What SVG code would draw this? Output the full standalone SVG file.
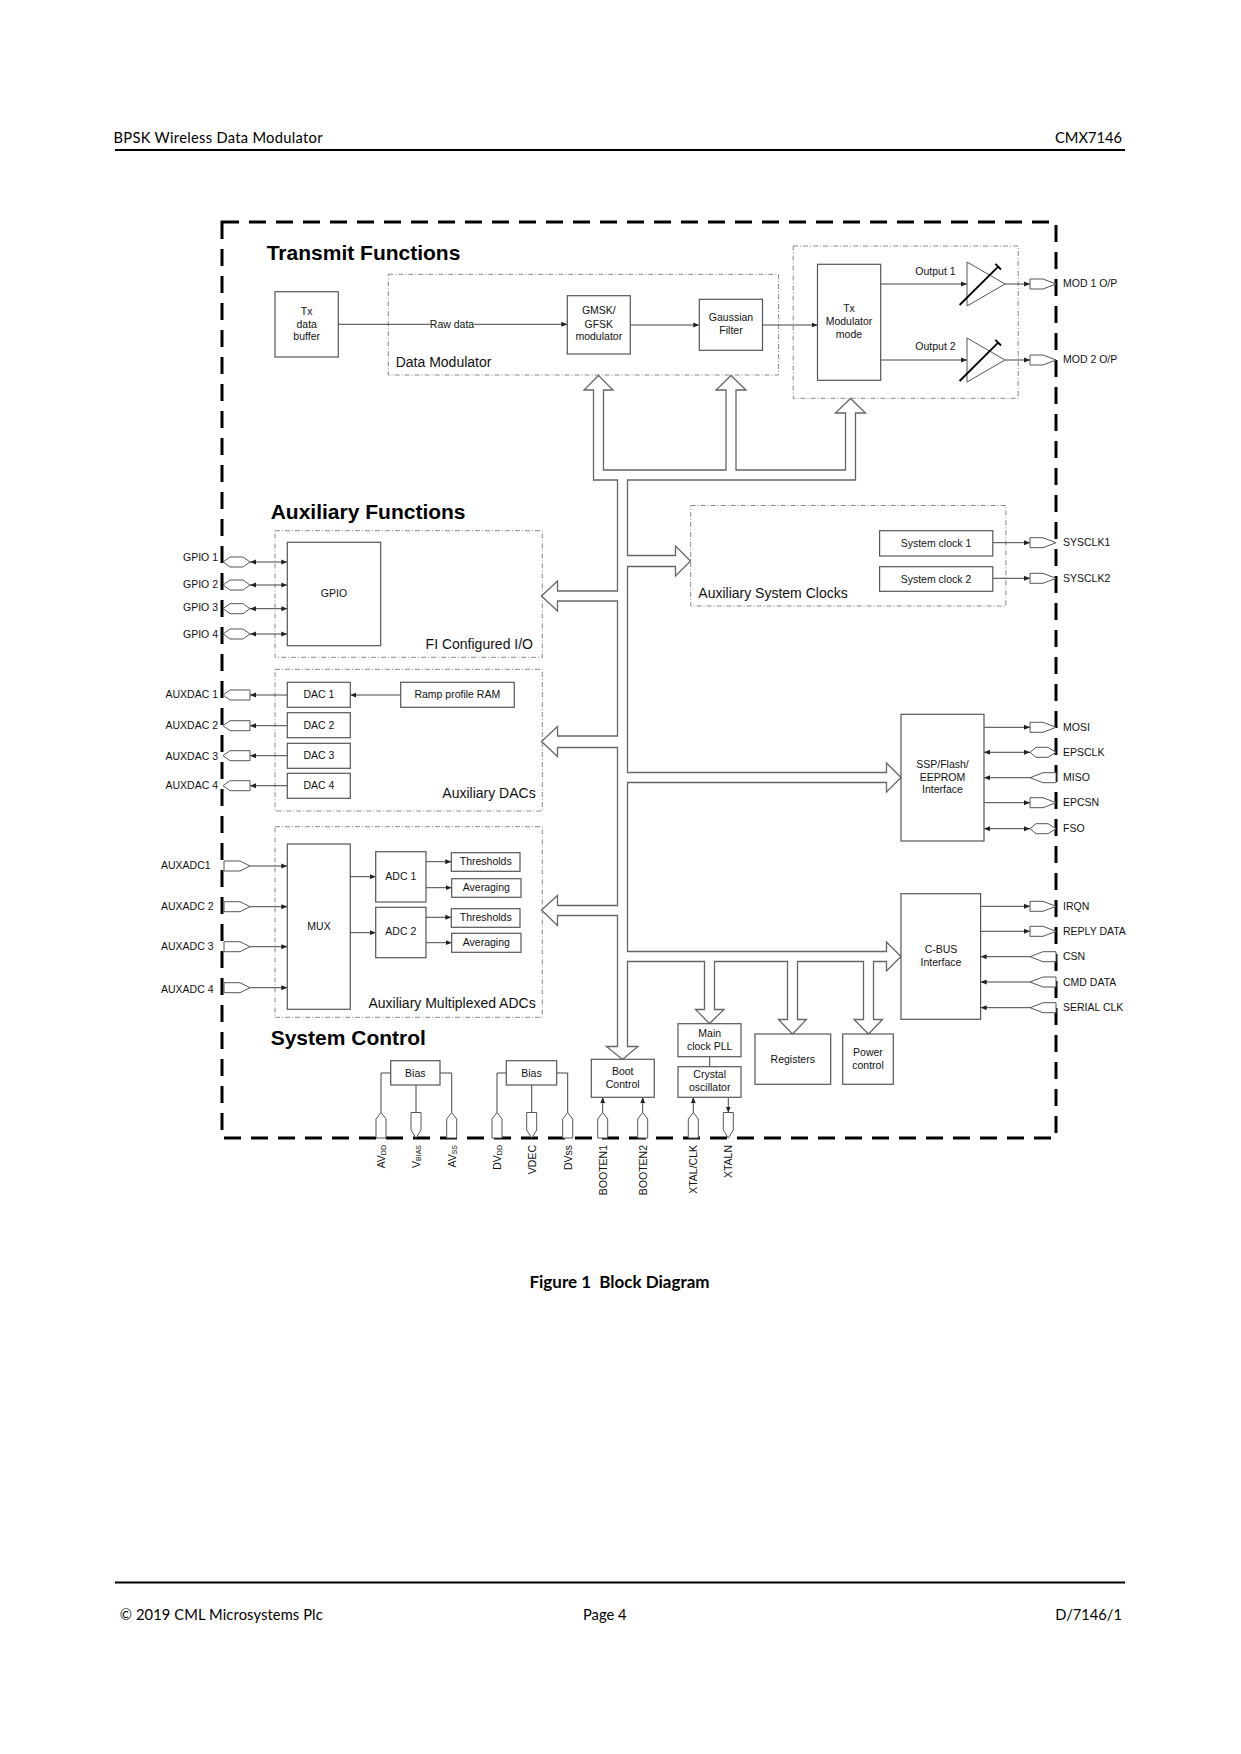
<svg xmlns="http://www.w3.org/2000/svg" xmlns:xlink="http://www.w3.org/1999/xlink" width="1241" height="1754" viewBox="0 0 1241 1754">
<style>
.bx{fill:#fff;stroke:#555;stroke-width:1.2}
.grp{fill:none;stroke:#888;stroke-width:1;stroke-dasharray:5 2 1 2}
.ln{fill:none;stroke:#444;stroke-width:1}
.bus{fill:#fff;stroke:#666;stroke-width:1.3}
text{font-family:"Liberation Sans",Arial,sans-serif;fill:#111}
.s{font-size:10.5px}
.c{text-anchor:middle}
.e{text-anchor:end}
.sec{font-size:14px}
.ttl{font-size:21px;font-weight:bold;fill:#000}
.hf{font-family:Lato,"Liberation Sans",sans-serif;font-size:14.7px;fill:#000}
.cap{font-family:Lato,"Liberation Sans",sans-serif;font-size:17px;font-weight:bold;fill:#000}
</style>
<defs>
<marker id="ah" viewBox="0 0 6 6" refX="6" refY="3" markerWidth="6" markerHeight="6" markerUnits="userSpaceOnUse" orient="auto-start-reverse"><path d="M0,0.5 L6,3 L0,5.5 z" fill="#222"/></marker>
<polygon id="pOR" points="-26,-5 -13,-5 0,0 -13,5 -26,5" fill="#fff" stroke="#555" stroke-width="1"/>
<polygon id="pIR" points="-26,0 -13,-5 0,-5 0,5 -13,5" fill="#fff" stroke="#555" stroke-width="1"/>
<polygon id="pBR" points="-26,0 -20,-5 -8,-5 0,0 -8,5 -20,5" fill="#fff" stroke="#555" stroke-width="1"/>
<polygon id="pBL" points="0,0 7,-5 20,-5 27,0 20,5 7,5" fill="#fff" stroke="#555" stroke-width="1"/>
<polygon id="pOL" points="0,0 7,-5 27,-5 27,5 7,5" fill="#fff" stroke="#555" stroke-width="1"/>
<polygon id="pIL" points="0,-5 16,-5 26,0 16,5 0,5" fill="#fff" stroke="#555" stroke-width="1"/>
<polygon id="pIU" points="-5,0 -5,-19 0,-25.5 5,-19 5,0" fill="#fff" stroke="#555" stroke-width="1"/>
<polygon id="pOD" points="-5,-25.5 5,-25.5 5,-8 0,0 -5,-8" fill="#fff" stroke="#555" stroke-width="1"/>
<g id="amp">
<polygon points="0,-22 38,0 0,22" fill="#fff" stroke="#555" stroke-width="1"/>
<line x1="-7.4" y1="21" x2="31.2" y2="-17.3" stroke="#000" stroke-width="1.8"/>
<line x1="28.4" y1="-20.1" x2="34" y2="-14.5" stroke="#000" stroke-width="1.8"/>
</g>
</defs>

<rect width="1241" height="1754" fill="#fff"/>

<g id="page">
<text class="hf" x="113.5" y="142.5" textLength="209">BPSK Wireless Data Modulator</text>
<text class="hf e" x="1122" y="142.5">CMX7146</text>
<line x1="115" y1="150" x2="1125" y2="150" stroke="#000" stroke-width="2"/>
<text class="cap c" x="619.5" y="1288">Figure 1&#160; Block Diagram</text>
<line x1="115" y1="1582.5" x2="1125" y2="1582.5" stroke="#000" stroke-width="2"/>
<text class="hf" x="119.7" y="1620" textLength="203">© 2019 CML Microsystems Plc</text>
<text class="hf" x="583" y="1620">Page 4</text>
<text class="hf e" x="1122" y="1620">D/7146/1</text>
</g>

<g id="chip-border">
<rect x="222" y="222" width="834" height="916" fill="none" stroke="#000" stroke-width="3" stroke-dasharray="17 10"/>
</g>

<g id="titles">
<text class="ttl" x="266.7" y="260">Transmit Functions</text>
<text class="ttl" x="270.7" y="519">Auxiliary Functions</text>
<text class="ttl" x="270.7" y="1045">System Control</text>
</g>

<g id="groups">
<g id="grp-data-modulator"><rect class="grp" x="388.3" y="274.3" width="390.3" height="100.7"/><text class="sec" x="395.7" y="366.7">Data Modulator</text></g>
<g id="grp-tx-mod"><rect class="grp" x="793.2" y="246" width="225" height="152.3"/></g>
<g id="grp-sysclk"><rect class="grp" x="690.7" y="505.5" width="315.2" height="100.5"/><text class="sec" x="698.3" y="597.7">Auxiliary System Clocks</text></g>
<g id="grp-fi"><rect class="grp" x="275" y="530.7" width="267.3" height="126.6"/><text class="sec e" x="533" y="649.3">FI Configured I/O</text></g>
<g id="grp-dacs"><rect class="grp" x="275" y="669.3" width="267.3" height="141.7"/><text class="sec e" x="535.7" y="798.3">Auxiliary DACs</text></g>
<g id="grp-adcs"><rect class="grp" x="275" y="826.7" width="267.3" height="190.6"/><text class="sec e" x="535.7" y="1008.3">Auxiliary Multiplexed ADCs</text></g>
</g>

<g id="connectors">
<polygon class="bus" points="593.5,480 593.5,390 584,390 598.5,375.5 613,390 603.5,390 603.5,470 726,470 726,390 716,390 731,375.5 746,390 736,390 736,470 845.5,470 845.5,413 835.5,413 850.5,398.5 865.5,413 855.5,413 855.5,480 627.5,480 627.5,555.5 675.5,555.5 675.5,546 690.5,561 675.5,576 675.5,566.5 627.5,566.5 627.5,772.5 886.5,772.5 886.5,763 901,777.5 886.5,792 886.5,782.5 627.5,782.5 627.5,951.5 886.5,951.5 886.5,942 901,956.5 886.5,971 886.5,961.5 873.5,961.5 873.5,1019.5 882.5,1019.5 868.5,1034 854,1019.5 863.5,1019.5 863.5,961.5 797.5,961.5 797.5,1019.5 806.5,1019.5 792.5,1034 778.5,1019.5 787.5,1019.5 787.5,961.5 714.5,961.5 714.5,1009.5 724,1009.5 709.5,1023.5 695.5,1009.5 704.5,1009.5 704.5,961.5 627.5,961.5 627.5,1046.5 638,1046.5 622.5,1059.5 606.5,1046.5 617.5,1046.5 617.5,915.5 557.5,915.5 557.5,925.5 541.5,910 557.5,895.5 557.5,905.5 617.5,905.5 617.5,747.5 557.5,747.5 557.5,756.5 541.5,741.5 557.5,726.5 557.5,736 617.5,736 617.5,601 557.5,601 557.5,611 541.5,596 557.5,581 557.5,591 617.5,591 617.5,480"/>
<!-- transmit chain -->
<path class="ln" d="M338.3,324.3 H430"/>
<path class="ln" d="M474,324.3 H567.3" marker-end="url(#ah)"/>
<text class="s c" x="452" y="328">Raw data</text>
<path class="ln" d="M630.3,325 H699.3" marker-end="url(#ah)"/>
<path class="ln" d="M762.5,325 H817.5" marker-end="url(#ah)"/>
<path class="ln" d="M880.7,284 H967" marker-end="url(#ah)"/>
<path class="ln" d="M880.7,360 H967" marker-end="url(#ah)"/>
<path class="ln" d="M1005,284 H1030" marker-end="url(#ah)"/>
<path class="ln" d="M1005,360 H1030" marker-end="url(#ah)"/>
<text class="s c" x="935.5" y="274.7">Output 1</text>
<text class="s c" x="935.5" y="349.7">Output 2</text>
<!-- sys clocks -->
<path class="ln" d="M992.8,542.7 H1030" marker-end="url(#ah)"/>
<path class="ln" d="M992.8,578.3 H1030" marker-end="url(#ah)"/>
<!-- SSP -->
<path class="ln" d="M984,727.3 H1030" marker-end="url(#ah)"/>
<path class="ln" d="M984,752.3 H1030" marker-start="url(#ah)" marker-end="url(#ah)"/>
<path class="ln" d="M1030,777.7 H984" marker-end="url(#ah)"/>
<path class="ln" d="M984,802.7 H1030" marker-end="url(#ah)"/>
<path class="ln" d="M984,828.7 H1030" marker-start="url(#ah)" marker-end="url(#ah)"/>
<!-- C-BUS -->
<path class="ln" d="M980.6,906.3 H1030" marker-end="url(#ah)"/>
<path class="ln" d="M980.6,931.3 H1030" marker-end="url(#ah)"/>
<path class="ln" d="M1030,956.7 H980.6" marker-end="url(#ah)"/>
<path class="ln" d="M1030,982 H980.6" marker-end="url(#ah)"/>
<path class="ln" d="M1030,1007.7 H980.6" marker-end="url(#ah)"/>
<!-- GPIO -->
<path class="ln" d="M250,562 H287.3" marker-start="url(#ah)" marker-end="url(#ah)"/>
<path class="ln" d="M250,585 H287.3" marker-start="url(#ah)" marker-end="url(#ah)"/>
<path class="ln" d="M250,608.7 H287.3" marker-start="url(#ah)" marker-end="url(#ah)"/>
<path class="ln" d="M250,634 H287.3" marker-start="url(#ah)" marker-end="url(#ah)"/>
<!-- DACs -->
<path class="ln" d="M400.7,695 H350.3" marker-end="url(#ah)"/>
<path class="ln" d="M287.3,695 H250" marker-end="url(#ah)"/>
<path class="ln" d="M287.3,725.7 H250" marker-end="url(#ah)"/>
<path class="ln" d="M287.3,755.7 H250" marker-end="url(#ah)"/>
<path class="ln" d="M287.3,785.7 H250" marker-end="url(#ah)"/>
<!-- ADCs -->
<path class="ln" d="M250,866 H287.3" marker-end="url(#ah)"/>
<path class="ln" d="M250,906.7 H287.3" marker-end="url(#ah)"/>
<path class="ln" d="M250,946.7 H287.3" marker-end="url(#ah)"/>
<path class="ln" d="M250,987.7 H287.3" marker-end="url(#ah)"/>
<path class="ln" d="M350.3,876.7 H375.7" marker-end="url(#ah)"/>
<path class="ln" d="M350.3,932.7 H375.7" marker-end="url(#ah)"/>
<path class="ln" d="M426,861.7 H451.3" marker-end="url(#ah)"/>
<path class="ln" d="M426,887.7 H451.7" marker-end="url(#ah)"/>
<path class="ln" d="M426,917.3 H451.3" marker-end="url(#ah)"/>
<path class="ln" d="M426,942.7 H451.7" marker-end="url(#ah)"/>
<!-- system control -->
<path class="ln" d="M381,1112.5 V1073 H390.7"/>
<path class="ln" d="M416,1085 V1112.5"/>
<path class="ln" d="M451.7,1112.5 V1073 H440"/>
<path class="ln" d="M497,1112.5 V1073 H506.3"/>
<path class="ln" d="M531.7,1085 V1112.5"/>
<path class="ln" d="M567.7,1112.5 V1073 H556.7"/>
<path class="ln" d="M602.7,1112.5 V1097.3" marker-end="url(#ah)"/>
<path class="ln" d="M642.7,1112.5 V1097.3" marker-end="url(#ah)"/>
<path class="ln" d="M693.3,1112.5 V1097.3" marker-end="url(#ah)"/>
<path class="ln" d="M728.3,1097.3 V1112.5" marker-end="url(#ah)"/>
<path class="ln" d="M709.7,1056.7 V1066.7"/>
</g>

<g id="amplifiers">
<use xlink:href="#amp" x="967" y="284"/>
<use xlink:href="#amp" x="967" y="360"/>
</g>

<g id="pins">
<g id="pins-right">
<use xlink:href="#pOR" x="1056" y="284"/><text class="s" x="1063" y="287">MOD 1 O/P</text>
<use xlink:href="#pOR" x="1056" y="360"/><text class="s" x="1063" y="363">MOD 2 O/P</text>
<use xlink:href="#pOR" x="1056" y="542.7"/><text class="s" x="1063" y="546.4">SYSCLK1</text>
<use xlink:href="#pOR" x="1056" y="578.3"/><text class="s" x="1063" y="582">SYSCLK2</text>
<use xlink:href="#pOR" x="1056" y="727.3"/><text class="s" x="1063" y="731">MOSI</text>
<use xlink:href="#pBR" x="1056" y="752.3"/><text class="s" x="1063" y="755.5">EPSCLK</text>
<use xlink:href="#pIR" x="1056" y="777.7"/><text class="s" x="1063" y="781.4">MISO</text>
<use xlink:href="#pOR" x="1056" y="802.7"/><text class="s" x="1063" y="806.4">EPCSN</text>
<use xlink:href="#pBR" x="1056" y="828.7"/><text class="s" x="1063" y="832.4">FSO</text>
<use xlink:href="#pOR" x="1056" y="906.3"/><text class="s" x="1063" y="910">IRQN</text>
<use xlink:href="#pOR" x="1056" y="931.3"/><text class="s" x="1063" y="935">REPLY DATA</text>
<use xlink:href="#pIR" x="1056" y="956.7"/><text class="s" x="1063" y="960.4">CSN</text>
<use xlink:href="#pIR" x="1056" y="982"/><text class="s" x="1063" y="985.7">CMD DATA</text>
<use xlink:href="#pIR" x="1056" y="1007.7"/><text class="s" x="1063" y="1011.4">SERIAL CLK</text>
</g>
<g id="pins-left">
<use xlink:href="#pBL" x="223" y="562"/><text class="s e" x="218" y="561">GPIO 1</text>
<use xlink:href="#pBL" x="223" y="585"/><text class="s e" x="218" y="588">GPIO 2</text>
<use xlink:href="#pBL" x="223" y="608.7"/><text class="s e" x="218" y="611">GPIO 3</text>
<use xlink:href="#pBL" x="223" y="634"/><text class="s e" x="218" y="637.7">GPIO 4</text>
<use xlink:href="#pOL" x="223" y="695"/><text class="s e" x="218" y="698">AUXDAC 1</text>
<use xlink:href="#pOL" x="223" y="725.7"/><text class="s e" x="218" y="728.7">AUXDAC 2</text>
<use xlink:href="#pOL" x="223" y="755.7"/><text class="s e" x="218" y="759.7">AUXDAC 3</text>
<use xlink:href="#pOL" x="223" y="785.7"/><text class="s e" x="218" y="789.4">AUXDAC 4</text>
<use xlink:href="#pIL" x="224" y="866"/><text class="s" x="161" y="869.4">AUXADC1</text>
<use xlink:href="#pIL" x="224" y="906.7"/><text class="s" x="161" y="909.7">AUXADC 2</text>
<use xlink:href="#pIL" x="224" y="946.7"/><text class="s" x="161" y="950.4">AUXADC 3</text>
<use xlink:href="#pIL" x="224" y="987.7"/><text class="s" x="161" y="993">AUXADC 4</text>
</g>
<g id="pins-bottom">
<use xlink:href="#pIU" x="381" y="1138"/>
<use xlink:href="#pOD" x="416" y="1138"/>
<use xlink:href="#pIU" x="451.7" y="1138"/>
<use xlink:href="#pIU" x="497" y="1138"/>
<use xlink:href="#pOD" x="531.7" y="1138"/>
<use xlink:href="#pIU" x="567.7" y="1138"/>
<use xlink:href="#pIU" x="602.7" y="1138"/>
<use xlink:href="#pIU" x="642.7" y="1138"/>
<use xlink:href="#pIU" x="693.3" y="1138"/>
<use xlink:href="#pOD" x="728.3" y="1138"/>
<text class="s e" transform="translate(384.8,1145) rotate(-90)">AV<tspan font-size="7" dy="1.5">DD</tspan></text>
<text class="s e" transform="translate(419.8,1145) rotate(-90)">V<tspan font-size="7" dy="1.5">BIAS</tspan></text>
<text class="s e" transform="translate(455.5,1145) rotate(-90)">AV<tspan font-size="7" dy="1.5">SS</tspan></text>
<text class="s e" transform="translate(500.8,1145) rotate(-90)">DV<tspan font-size="7" dy="1.5">DD</tspan></text>
<text class="s e" transform="translate(535.5,1145) rotate(-90)">VDEC</text>
<text class="s e" transform="translate(571.5,1145) rotate(-90)">DVss</text>
<text class="s e" transform="translate(606.5,1145) rotate(-90)">BOOTEN1</text>
<text class="s e" transform="translate(646.5,1145) rotate(-90)">BOOTEN2</text>
<text class="s e" transform="translate(697.1,1145) rotate(-90)">XTAL/CLK</text>
<text class="s e" transform="translate(732.1,1145) rotate(-90)">XTALN</text>
</g>
</g>

<g id="tx-data-buffer"><rect class="bx" x="275" y="291.7" width="63.3" height="65.3"/><text class="s c" x="306.7" y="314.7">Tx</text><text class="s c" x="306.7" y="328">data</text><text class="s c" x="306.7" y="340.4">buffer</text></g>
<g id="gmsk-modulator"><rect class="bx" x="567.3" y="295.7" width="63" height="58.3"/><text class="s c" x="598.8" y="313.7">GMSK/</text><text class="s c" x="598.8" y="328">GFSK</text><text class="s c" x="598.8" y="340.4">modulator</text></g>
<g id="gaussian-filter"><rect class="bx" x="699.3" y="299.3" width="63.2" height="51"/><text class="s c" x="731" y="321">Gaussian</text><text class="s c" x="731" y="333.7">Filter</text></g>
<g id="tx-modulator-mode"><rect class="bx" x="817.5" y="264.3" width="63.2" height="116"/><text class="s c" x="849" y="312">Tx</text><text class="s c" x="849" y="324.7">Modulator</text><text class="s c" x="849" y="337.7">mode</text></g>
<g id="system-clock-1"><rect class="bx" x="879.6" y="530.7" width="113.2" height="25.3"/><text class="s c" x="936" y="547">System clock 1</text></g>
<g id="system-clock-2"><rect class="bx" x="879.6" y="566.7" width="113.2" height="24.6"/><text class="s c" x="936" y="582.7">System clock 2</text></g>
<g id="gpio"><rect class="bx" x="287.3" y="542.3" width="93.4" height="103.4"/><text class="s c" x="334" y="597">GPIO</text></g>
<g id="dac1"><rect class="bx" x="287.3" y="682.3" width="63" height="25"/><text class="s c" x="319" y="698">DAC 1</text></g>
<g id="dac2"><rect class="bx" x="287.3" y="712.7" width="63" height="25"/><text class="s c" x="319" y="728.5">DAC 2</text></g>
<g id="dac3"><rect class="bx" x="287.3" y="743.3" width="63" height="25"/><text class="s c" x="319" y="758.5">DAC 3</text></g>
<g id="dac4"><rect class="bx" x="287.3" y="773.3" width="63" height="25"/><text class="s c" x="319" y="788.7">DAC 4</text></g>
<g id="ramp-profile-ram"><rect class="bx" x="400.7" y="682.3" width="113.6" height="25"/><text class="s c" x="457.3" y="698">Ramp profile RAM</text></g>
<g id="mux"><rect class="bx" x="287.3" y="844" width="63" height="165.3"/><text class="s c" x="319" y="930.4">MUX</text></g>
<g id="adc1"><rect class="bx" x="375.7" y="851.7" width="50.3" height="50.3"/><text class="s c" x="400.8" y="880">ADC 1</text></g>
<g id="adc2"><rect class="bx" x="375.7" y="907.3" width="50.3" height="50.4"/><text class="s c" x="400.8" y="935">ADC 2</text></g>
<g id="thresholds1"><rect class="bx" x="451.3" y="852.7" width="68.7" height="18.6"/><text class="s c" x="485.7" y="864.7">Thresholds</text></g>
<g id="averaging1"><rect class="bx" x="451.7" y="878.7" width="69.3" height="18.6"/><text class="s c" x="486.3" y="891.4">Averaging</text></g>
<g id="thresholds2"><rect class="bx" x="451.3" y="908.7" width="68.7" height="18.6"/><text class="s c" x="485.7" y="921">Thresholds</text></g>
<g id="averaging2"><rect class="bx" x="451.7" y="933.3" width="69.3" height="19"/><text class="s c" x="486.3" y="946.4">Averaging</text></g>
<g id="ssp-interface"><rect class="bx" x="901" y="714.3" width="83" height="126.7"/><text class="s c" x="942.5" y="768">SSP/Flash/</text><text class="s c" x="942.5" y="780.7">EEPROM</text><text class="s c" x="942.5" y="793">Interface</text></g>
<g id="cbus-interface"><rect class="bx" x="901" y="893.7" width="79.6" height="125.6"/><text class="s c" x="941" y="953">C-BUS</text><text class="s c" x="941" y="966">Interface</text></g>
<g id="main-clock-pll"><rect class="bx" x="678" y="1023.7" width="63" height="33"/><text class="s c" x="709.7" y="1037">Main</text><text class="s c" x="709.7" y="1049.7">clock PLL</text></g>
<g id="crystal-oscillator"><rect class="bx" x="678" y="1066.7" width="63" height="30.6"/><text class="s c" x="709.7" y="1078">Crystal</text><text class="s c" x="709.7" y="1090.7">oscillator</text></g>
<g id="registers"><rect class="bx" x="755" y="1034" width="75.7" height="50.3"/><text class="s c" x="792.8" y="1062.7">Registers</text></g>
<g id="power-control"><rect class="bx" x="842.7" y="1034" width="50.6" height="50.3"/><text class="s c" x="868" y="1056">Power</text><text class="s c" x="868" y="1068.7">control</text></g>
<g id="boot-control"><rect class="bx" x="591.3" y="1059.3" width="63" height="38"/><text class="s c" x="622.7" y="1075.4">Boot</text><text class="s c" x="622.7" y="1087.5">Control</text></g>
<g id="bias-analog"><rect class="bx" x="390.7" y="1060.7" width="49.3" height="24.3"/><text class="s c" x="415.3" y="1076.7">Bias</text></g>
<g id="bias-digital"><rect class="bx" x="506.3" y="1060.7" width="50.4" height="24.3"/><text class="s c" x="531.5" y="1076.7">Bias</text></g>
</svg>
